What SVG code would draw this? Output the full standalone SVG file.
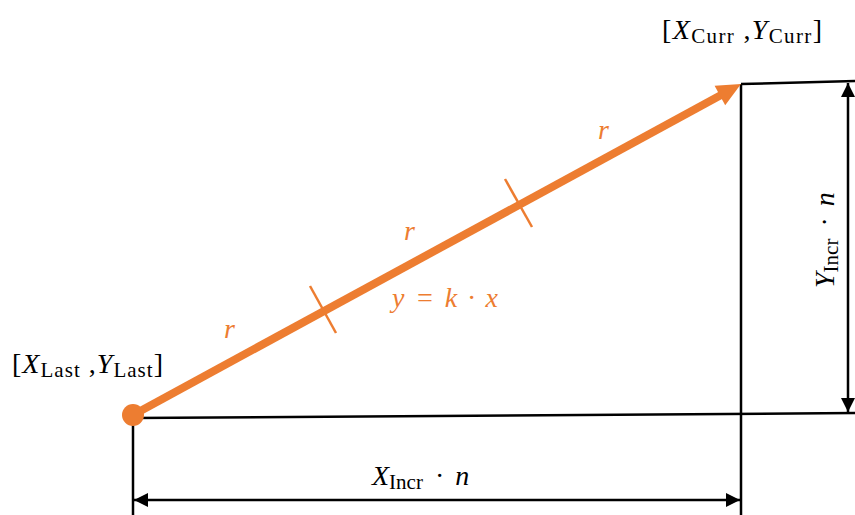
<svg xmlns="http://www.w3.org/2000/svg" width="855" height="515" viewBox="0 0 855 515">
<style>
.t{font-family:"Liberation Serif","DejaVu Serif",serif;font-size:28px;fill:#000}
.i{font-style:italic}
.s{font-size:21px;font-style:normal}
.o{fill:#ED7D31}
.blk{stroke:#000;stroke-width:2.5;fill:none}
</style>
<defs>
<marker id="ah" viewBox="0 0 10 10" refX="10" refY="5" markerWidth="14" markerHeight="14" markerUnits="userSpaceOnUse" orient="auto-start-reverse">
<path d="M0,0 L10,5 L0,10 Z" fill="#000"/>
</marker>
</defs>
<g id="connectors">
<line class="blk" x1="133" y1="418" x2="855" y2="413"/>
<line class="blk" x1="741" y1="84" x2="855" y2="81"/>
<line class="blk" x1="741" y1="84" x2="741" y2="515"/>
<line class="blk" x1="133" y1="418" x2="133" y2="515"/>
<line class="blk" x1="848" y1="83" x2="848" y2="412" marker-start="url(#ah)" marker-end="url(#ah)"/>
<line class="blk" x1="134" y1="500" x2="740" y2="500" marker-start="url(#ah)" marker-end="url(#ah)"/>
</g>
<g id="vector">
<line x1="133" y1="415" x2="722" y2="94.5" stroke="#ED7D31" stroke-width="8"/>
<polygon points="741,84 714.6,85.8 725.2,105.2" fill="#ED7D31"/>
<line x1="310" y1="286" x2="336" y2="333" stroke="#ED7D31" stroke-width="2.5"/>
<line x1="505" y1="179" x2="532" y2="227" stroke="#ED7D31" stroke-width="2.5"/>
<circle cx="133" cy="415" r="11" fill="#ED7D31"/>
<text class="t i o" x="224" y="338">r</text>
<text class="t i o" x="404" y="240">r</text>
<text class="t i o" x="598" y="139">r</text>
<text class="t i o" x="392" y="307" textLength="106" lengthAdjust="spacing">y = k · x</text>
</g>
<g id="last">
<text class="t" x="12" y="373" textLength="151" lengthAdjust="spacing">[<tspan class="i">X</tspan><tspan class="s" dy="4">Last</tspan><tspan dy="-4"> ,</tspan><tspan class="i">Y</tspan><tspan class="s" dy="4">Last</tspan><tspan dy="-4">]</tspan></text>
</g>
<g id="curr">
<text class="t" x="662" y="39" textLength="160" lengthAdjust="spacing">[<tspan class="i">X</tspan><tspan class="s" dy="4">Curr</tspan><tspan dy="-4"> ,</tspan><tspan class="i">Y</tspan><tspan class="s" dy="4">Curr</tspan><tspan dy="-4">]</tspan></text>
</g>
<g id="xincr">
<text class="t" x="372" y="485"><tspan class="i">X</tspan><tspan class="s" dy="4">Incr</tspan><tspan dy="-4" dx="5"> · </tspan><tspan class="i" dx="4">n</tspan></text>
</g>
<g id="yincr">
<text class="t" transform="translate(834,288) rotate(-90)" x="0" y="0"><tspan class="i">Y</tspan><tspan class="s" dy="4">Incr</tspan><tspan dy="-4" dx="5"> · </tspan><tspan class="i" dx="4">n</tspan></text>
</g>
</svg>
